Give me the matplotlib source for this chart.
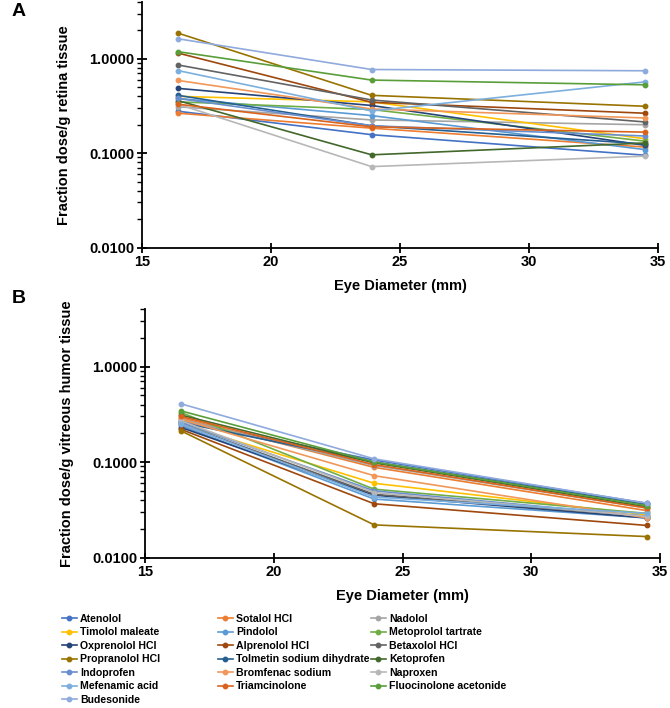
import numpy as np
import matplotlib.pyplot as plt
from matplotlib.ticker import LogLocator, FixedLocator, NullFormatter

plt.rcParams['font.family'] = ['Liberation Sans', 'DejaVu Sans']
plt.rcParams['font.weight'] = 'bold'

# eye diameters (mm)
eye_diam = [16.4, 23.9, 34.5]

drugs = ['Atenolol', 'Sotalol HCl', 'Nadolol', 'Timolol maleate', 'Pindolol',
         'Metoprolol tartrate', 'Oxprenolol HCl', 'Alprenolol HCl', 'Betaxolol HCl',
         'Propranolol HCl', 'Tolmetin sodium dihydrate', 'Ketoprofen', 'Indoprofen',
         'Bromfenac sodium', 'Naproxen', 'Mefenamic acid', 'Triamcinolone',
         'Fluocinolone acetonide', 'Budesonide']

colors = ['#4472C4', '#ED7D31', '#A5A5A5', '#FFC000', '#5B9BD5', '#70AD47',
          '#264478', '#9E480E', '#636363', '#997300', '#255E91', '#43682B',
          '#698ED0', '#F1975A', '#B7B7B7', '#7CAFDD', '#D9631C', '#5A9E3A',
          '#8FAADC']

# fraction dose / g retina tissue
retina = [
    [0.278, 0.157, 0.095],   # Atenolol
    [0.265, 0.184, 0.116],   # Sotalol HCl
    [0.31, 0.225, 0.20],     # Nadolol
    [0.40, 0.35, 0.142],     # Timolol maleate
    [0.38, 0.25, 0.109],     # Pindolol
    [0.35, 0.29, 0.134],     # Metoprolol tartrate
    [0.486, 0.32, 0.121],    # Oxprenolol HCl
    [1.15, 0.346, 0.265],    # Alprenolol HCl
    [0.86, 0.366, 0.214],    # Betaxolol HCl
    [1.87, 0.41, 0.314],     # Propranolol HCl
    [0.41, 0.195, 0.125],    # Tolmetin sodium dihydrate
    [0.36, 0.096, 0.128],    # Ketoprofen
    [0.38, 0.195, 0.152],    # Indoprofen
    [0.59, 0.294, 0.236],    # Bromfenac sodium
    [0.33, 0.072, 0.093],    # Naproxen
    [0.75, 0.28, 0.57],      # Mefenamic acid
    [0.33, 0.19, 0.167],     # Triamcinolone
    [1.19, 0.595, 0.53],     # Fluocinolone acetonide
    [1.63, 0.77, 0.747],     # Budesonide
]

# fraction dose / g vitreous humor tissue
vitreous = [
    [0.27, 0.105, 0.037],    # Atenolol
    [0.29, 0.088, 0.031],    # Sotalol HCl
    [0.28, 0.092, 0.033],    # Nadolol
    [0.25, 0.060, 0.028],    # Timolol maleate
    [0.24, 0.041, 0.026],    # Pindolol
    [0.33, 0.052, 0.029],    # Metoprolol tartrate
    [0.23, 0.045, 0.026],    # Oxprenolol HCl
    [0.22, 0.0366, 0.0217],  # Alprenolol HCl
    [0.25, 0.046, 0.027],    # Betaxolol HCl
    [0.212, 0.022, 0.0166],  # Propranolol HCl
    [0.26, 0.10, 0.036],     # Tolmetin sodium dihydrate
    [0.31, 0.098, 0.034],    # Ketoprofen
    [0.26, 0.050, 0.027],    # Indoprofen
    [0.28, 0.072, 0.026],    # Bromfenac sodium
    [0.27, 0.048, 0.027],    # Naproxen
    [0.25, 0.043, 0.029],    # Mefenamic acid
    [0.30, 0.094, 0.033],    # Triamcinolone
    [0.343, 0.10, 0.035],    # Fluocinolone acetonide
    [0.407, 0.108, 0.037],   # Budesonide
]

W, H = 670, 708
fig = plt.figure(figsize=(W / 100, H / 100), dpi=100)


def frac(x0, y0, x1, y1):
    # pixel box -> figure fraction rect
    return [x0 / W, 1 - y1 / H, (x1 - x0) / W, (y1 - y0) / H]


def setup(ax, ylabel):
    ax.set_yscale('log')
    ax.set_ylim(0.01, 4)
    ax.set_xlim(15, 35)
    ax.set_xticks([15, 20, 25, 30, 35])
    ax.yaxis.set_major_locator(FixedLocator([0.01, 0.1, 1.0]))
    ax.yaxis.set_minor_locator(LogLocator(base=10, subs=np.arange(2, 10)))
    ax.yaxis.set_minor_formatter(NullFormatter())
    ax.set_yticklabels(['0.0100', '0.1000', '1.0000'])
    for s in ['top', 'right']:
        ax.spines[s].set_visible(False)
    for s in ['left', 'bottom']:
        ax.spines[s].set_linewidth(1.3)
    ax.tick_params(which='major', direction='inout', length=7, width=1.3,
                   labelsize=10.5, pad=2)
    ax.tick_params(which='minor', direction='out', length=3.5, width=1.0)
    ax.set_ylabel(ylabel, fontsize=10.5, fontweight='bold', labelpad=13)
    ax.set_xlabel('Eye Diameter (mm)', fontsize=10.5, fontweight='bold', labelpad=7)
    for lab in ax.get_xticklabels() + ax.get_yticklabels():
        lab.set_fontweight('bold')


axA = fig.add_axes(frac(142, 2, 658, 247.5))
axB = fig.add_axes(frac(145, 309, 660, 557.6))

handles = []
for i, name in enumerate(drugs):
    h, = axA.plot(eye_diam, retina[i], '-o', color=colors[i], lw=1.2, ms=3.2,
                  label=name)
    axB.plot(eye_diam, vitreous[i], '-o', color=colors[i], lw=1.2, ms=3.2)
    handles.append(h)

setup(axA, 'Fraction dose/g retina tissue')
setup(axB, 'Fraction dose/g vitreous humor tissue')

fig.text(12 / W, 1 - 12 / H, 'A', fontsize=14, fontweight='bold', va='center')
fig.text(12 / W, 1 - 298 / H, 'B', fontsize=14, fontweight='bold', va='center')

# legend: three columns filled row-wise
col_x = [62, 218, 371]
for c in range(3):
    idx = list(range(c, len(drugs), 3))
    fig.legend([handles[j] for j in idx], [drugs[j] for j in idx],
               loc='upper left', bbox_to_anchor=(col_x[c] / W, 1 - 614 / H),
               frameon=False, handlelength=1.4, handletextpad=0.3,
               labelspacing=0.33, borderaxespad=0, borderpad=0,
               prop={'weight': 'bold', 'size': 7.6})

fig.savefig('out.png', dpi=100)
